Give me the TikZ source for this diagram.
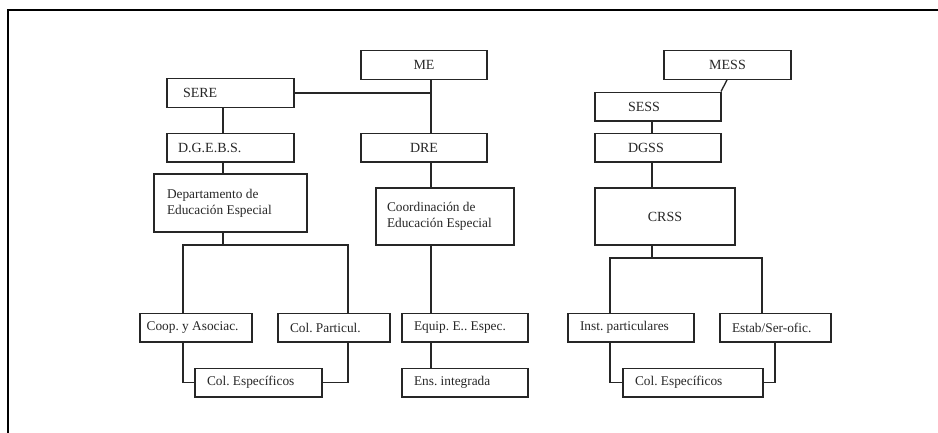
\documentclass[tikz,border=0pt]{standalone}
\usepackage{fontspec}
\setmainfont{Liberation Serif}
\usetikzlibrary{calc}
\definecolor{InkGray}{HTML}{262626}
\tikzset{
  % Unit box: left-aligned text, width = text width + 2 padding
  unit/.style 2 args={
    rectangle, draw=InkGray, line width=1pt, text=InkGray,
    text width=#1, inner xsep=#2, inner ysep=0pt,
    minimum height=21.5pt, align=flush left,
    font=\fontsize{10}{12}\selectfont\frenchspacing
  },
  % Head box: centred text, fixed width
  head/.style={
    rectangle, draw=InkGray, line width=1pt, text=InkGray,
    minimum width=#1, inner sep=0pt,
    minimum height=21.5pt, align=center,
    font=\fontsize{10.5}{12}\selectfont
  },
  % Connector line
  link/.style={draw=InkGray, line width=1pt},
  % Page frame
  frame/.style={draw=black, line width=1.6pt}
}

\begin{document}
\begin{tikzpicture}[x=0.75pt, y=-0.75pt]
  \useasboundingbox (0,0) rectangle (938,432);
  \draw[frame] (940,10) -- (8,10) -- (8,434);

  \node[head=94.5pt]               (me)     at (424,65)     {ME};
  \node[unit={71.25pt}{12pt}, font=\fontsize{10.5}{12}\selectfont]   (sere)  at (230.5,93)    {SERE};
  \node[unit={78.75pt}{8.25pt}, font=\fontsize{10.5}{12}\selectfont] (dgebs) at (230.5,147.5) {D.G.E.B.S.};
  \node[head=94.5pt]               (dre)    at (424,147.5)  {DRE};
  \node[unit={95.25pt}{9.75pt}, minimum height=43.5pt]  (dept)  at (230.5,203)  {Departamento de\\Educación Especial};
  \node[unit={87pt}{8.25pt}, minimum height=42.75pt]    (coord) at (445,216.5)  {Coordinación de\\Educación Especial};
  \node[unit={74pt}{5pt}]          (coop)   at (196,327.5)  {Coop. y Asociac.};
  \node[unit={66pt}{9pt}]          (colpart) at (334,327.5) {Col. Particul.};
  \node[unit={77.25pt}{9pt}]       (colesp) at (258.5,382.5){Col. Específicos};
  \node[unit={76.5pt}{9pt}]        (equip)  at (465,327.5)  {Equip. E.. Espec.};
  \node[unit={76.5pt}{9pt}]        (ens)    at (465,382.5)  {Ens. integrada};

  \node[head=95.25pt]              (mess)   at (727.5,65)   {MESS};
  \node[unit={45pt}{24.75pt}, font=\fontsize{10.5}{12}\selectfont] (sess) at (658,106.5) {SESS};
  \node[unit={45pt}{24.75pt}, font=\fontsize{10.5}{12}\selectfont] (dgss) at (658,147.5) {DGSS};
  \node[head=105pt, minimum height=42.75pt] (crss) at (665,216.5) {CRSS};
  \node[unit={76.5pt}{9pt}]        (inst)   at (631,327.5)  {Inst. particulares};
  \node[unit={65.25pt}{9pt}]       (estab)  at (775.5,327.5){Estab/Ser-ofic.};
  \node[unit={87pt}{9pt}]          (colesp2) at (693,382.5) {Col. Específicos};

  \coordinate (mx) at (431,0);
  \coordinate (lx) at (223,0);
  \coordinate (la) at (183,245);
  \coordinate (lb) at (348,245);
  \coordinate (mq) at (727,0);
  \coordinate (sq) at (721,0);
  \coordinate (rx) at (652,0);
  \coordinate (ra) at (610,258);
  \coordinate (rb) at (762,258);
  \coordinate (rc) at (775,0);

  \draw[link] (me.south -| mx) -- (dre.north -| mx);
  \draw[link] (sere.east) -- (sere.east -| mx);
  \draw[link] (sere.south -| lx) -- (dgebs.north -| lx);
  \draw[link] (dgebs.south -| lx) -- (dept.north -| lx);
  \draw[link] (dept.south -| lx) -- (lx |- la);
  \draw[link] (coop.north -| la) -- (la) -- (lb) -- (colpart.north -| lb);
  \draw[link] (coop.south -| la) |- (colesp.west);
  \draw[link] (colpart.south -| lb) |- (colesp.east);
  \draw[link] (dre.south -| mx) -- (coord.north -| mx);
  \draw[link] (coord.south -| mx) -- (equip.north -| mx);
  \draw[link] (equip.south -| mx) -- (ens.north -| mx);

  \draw[link] (mess.south -| mq) -- (sess.north -| sq);
  \draw[link] (sess.south -| rx) -- (dgss.north -| rx);
  \draw[link] (dgss.south -| rx) -- (crss.north -| rx);
  \draw[link] (crss.south -| rx) -- (rx |- ra);
  \draw[link] (inst.north -| ra) -- (ra) -- (rb) -- (estab.north -| rb);
  \draw[link] (inst.south -| ra) |- (colesp2.west);
  \draw[link] (estab.south -| rc) |- (colesp2.east);
\end{tikzpicture}
\end{document}
